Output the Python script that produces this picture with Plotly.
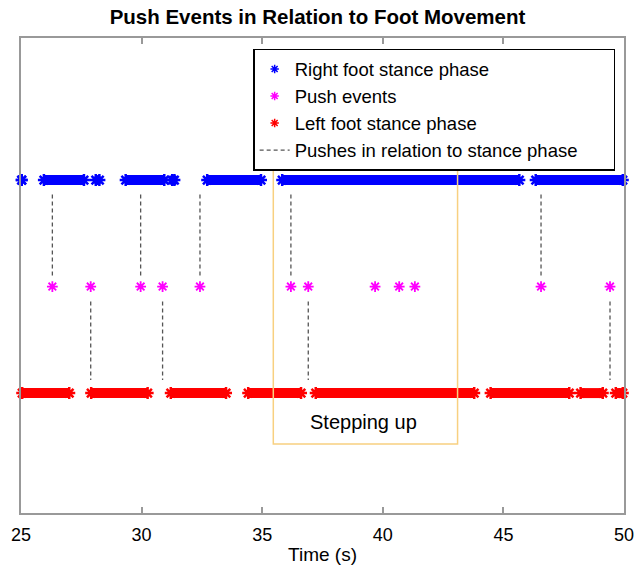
import plotly.graph_objects as go

# ---------------- data ----------------
right_starts = [25.03, 25.95, 28.10, 29.34, 31.27, 32.72, 35.83, 46.34]
right_ends   = [25.03, 27.61, 28.25, 30.94, 31.36, 34.95, 45.66, 49.95]
left_starts  = [25.05, 27.91, 31.21, 34.42, 37.22, 44.47, 48.20, 49.66]
left_ends    = [27.00, 30.25, 33.50, 36.61, 43.79, 47.73, 49.12, 49.95]
push_times   = [26.30, 27.89, 29.96, 30.87, 32.42, 36.19, 36.91, 39.68, 40.68, 41.33, 46.56, 49.42]
push_link    = ["right", "left", "right", "left", "right", "right", "left",
                "none", "none", "none", "right", "left"]
right_level, push_level, left_level = 1.0, 0.5, 0.0
x_ticks = [25, 30, 35, 40, 45, 50]
step_box = [35.46, 43.10]   # time span of the "Stepping up" region

FONT = "Arial, 'Liberation Sans', Helvetica, sans-serif"

def bar_xy(starts, ends, level):
    xs, ys = [], []
    for s, e in zip(starts, ends):
        xs += [s, e, None]
        ys += [level, level, None]
    return xs, ys

fig = go.Figure()

for starts, ends, level, col in [(right_starts, right_ends, right_level, "#0000FF"),
                                  (left_starts, left_ends, left_level, "#FF0000")]:
    bx, by = bar_xy(starts, ends, level)
    fig.add_trace(go.Scatter(x=bx, y=by, mode="lines+markers",
                             line=dict(color=col, width=10),
                             marker=dict(symbol="asterisk-open", size=10, color=col,
                                         line=dict(width=2.5, color=col)),
                             showlegend=False, cliponaxis=False, hoverinfo="skip"))

# connectors from push events to stance phases
cx, cy = [], []
for t, link in zip(push_times, push_link):
    if link == "right":
        cx += [t, t, None]
        cy += [push_level + 0.052, right_level - 0.056, None]
    elif link == "left":
        cx += [t, t, None]
        cy += [push_level - 0.07, left_level + 0.061, None]

fig.add_trace(go.Scatter(x=[None], y=[None], mode="markers", name="Right foot stance phase",
                         marker=dict(symbol="asterisk-open", size=7, color="#0000FF",
                                     line=dict(width=1.5, color="#0000FF"))))
fig.add_trace(go.Scatter(x=[None], y=[None], mode="markers", name="Push events",
                         marker=dict(symbol="asterisk-open", size=7, color="#FF00FF",
                                     line=dict(width=1.5, color="#FF00FF"))))
fig.add_trace(go.Scatter(x=[None], y=[None], mode="markers", name="Left foot stance phase",
                         marker=dict(symbol="asterisk-open", size=7, color="#FF0000",
                                     line=dict(width=1.5, color="#FF0000"))))
fig.add_trace(go.Scatter(x=cx, y=cy, mode="lines",
                         name="Pushes in relation to stance phase" + "\u00a0" * 6,
                         line=dict(color="#555555", width=1.3, dash="4px,3px"),
                         hoverinfo="skip"))

fig.add_trace(go.Scatter(x=push_times, y=[push_level] * len(push_times), mode="markers",
                         marker=dict(symbol="asterisk-open", size=9, color="#FF00FF",
                                     line=dict(width=1.8, color="#FF00FF")),
                         showlegend=False, cliponaxis=False))

fig.add_shape(type="rect", x0=step_box[0], x1=step_box[1], y0=-0.239, y1=1.085,
              xref="x", yref="y", line=dict(color="#F8D080", width=1.5), layer="above")
fig.add_annotation(x=39.21, y=-0.135, text="Stepping up",
                   showarrow=False, font=dict(family=FONT, size=20, color="black"))

fig.update_layout(
    width=635, height=569,
    margin=dict(l=21, r=11, t=38, b=56),
    paper_bgcolor="white", plot_bgcolor="white",
    font=dict(family=FONT, color="black"),
    title=dict(text="<b>Push Events in Relation to Foot Movement</b>", x=0.5, xanchor="center",
               y=1 - 10 / 569, yanchor="top", font=dict(family=FONT, size=20.5, color="black")),
    legend=dict(x=0.385, y=0.977, xanchor="left", yanchor="top", bgcolor="white",
                bordercolor="black", borderwidth=1.5, font=dict(family=FONT, size=18.5, color="black"),
                traceorder="normal", itemwidth=30),
    showlegend=True,
)
fig.update_xaxes(range=[25, 50], tickvals=x_ticks, ticktext=[str(v) for v in x_ticks],
                 automargin=False,
                 showgrid=False, zeroline=False, showline=True, linecolor="#999999", linewidth=2,
                 mirror="ticks", ticks="inside", ticklen=6, tickcolor="#999999", tickwidth=1.5,
                 tickfont=dict(family=FONT, size=18, color="black"), ticklabelstandoff=4,
                 title=dict(text="Time (s)", font=dict(family=FONT, size=19, color="black"), standoff=4))
fig.update_yaxes(range=[-0.563, 1.667], showticklabels=False, ticks="", showgrid=False,
                 automargin=False,
                 zeroline=False, showline=True, linecolor="#999999", linewidth=2, mirror=True)

fig.write_html("out.html", config={"displayModeBar": False},
               post_script="document.body.style.margin='0';document.body.style.padding='0';"
                           "document.body.style.overflow='hidden';")
